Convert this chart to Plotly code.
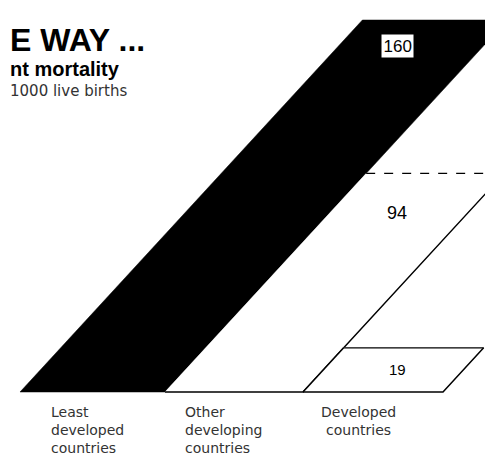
import plotly.graph_objects as go

# ---- data ----
categories = [["Least", "developed", "countries"],
              ["Other", "developing", "countries"],
              ["Developed", "countries"]]
values = [160, 94, 19]
value_labels = ["160", "94", "19"]
title_text = "E WAY ..."
subtitle_text = "nt mortality"
unit_text = "1000 live births"

# ---- style / layout ----
W, H = 493, 459
BASE_PX = 384          # pixel row of the zero line
PX_PER_UNIT = 2.325    # vertical pixels per unit
SLANT = 2.14           # horizontal shift (x units) per value unit
BAR_X0 = [12, 157, 295]
BAR_W = [145, 138, 140]
FILLS = ["black", "white", "white"]
LABEL_X = 389
LABEL_YSHIFT = [-26, -40, -22]
LABEL_SIZE = [17, 18, 15]
CAT_X = [41, 175, 350]
CAT_XANCHOR = ["left", "left", "center"]
CAT_FIRST_GAP = 10     # px below baseline for first label line
CAT_LINE_STEP = 18     # px between label lines
FONT = "Liberation Sans, Arial, sans-serif"
LIGHT_FONT = "DejaVu Sans, sans-serif"

ymax = BASE_PX / PX_PER_UNIT
ymin = -(H - BASE_PX) / PX_PER_UNIT

fig = go.Figure()

for i, v in enumerate(values):
    x0 = BAR_X0[i]
    w = BAR_W[i]
    xs = [x0, x0 + w, x0 + w + v * SLANT, x0 + v * SLANT, x0]
    ys = [0, 0, v, v, 0]
    fig.add_trace(go.Scatter(
        x=xs, y=ys, mode="lines", fill="toself",
        fillcolor=FILLS[i], line=dict(color=FILLS[i], width=0.5),
        hoverinfo="skip", showlegend=False,
    ))
    if i > 0:
        # bottom + right edge solid
        fig.add_trace(go.Scatter(
            x=[x0, x0 + w, x0 + w + v * SLANT], y=[0, 0, v], mode="lines",
            line=dict(color="black", width=1.5), hoverinfo="skip", showlegend=False,
        ))
        # top edge dashed for the middle bar, solid for the last
        fig.add_trace(go.Scatter(
            x=[x0 + v * SLANT, x0 + w + v * SLANT], y=[v, v], mode="lines",
            line=dict(color="black", width=1.3, dash="dash" if i == 1 else "solid"),
            hoverinfo="skip", showlegend=False,
        ))
        if i == 2:
            fig.add_trace(go.Scatter(
                x=[x0, x0 + v * SLANT], y=[0, v], mode="lines",
                line=dict(color="black", width=1.5), hoverinfo="skip", showlegend=False,
            ))

for i, v in enumerate(values):
    fig.add_annotation(
        x=LABEL_X, y=v, xref="x", yref="y", text=value_labels[i],
        showarrow=False, yshift=LABEL_YSHIFT[i],
        font=dict(family=FONT, size=LABEL_SIZE[i], color="black"),
        bgcolor="white" if i == 0 else None,
        bordercolor="black" if i == 0 else None,
        borderwidth=1.5 if i == 0 else 0,
        borderpad=2,
    )

for i, lines in enumerate(categories):
    for j, line in enumerate(lines):
        fig.add_annotation(
            x=CAT_X[i], y=0, xref="x", yref="y", text=line,
            showarrow=False, xanchor=CAT_XANCHOR[i], yanchor="top",
            yshift=-(CAT_FIRST_GAP + j * CAT_LINE_STEP),
            font=dict(family=LIGHT_FONT, size=14, color="#333"),
        )

fig.add_annotation(x=0, y=1 - 12 / H, xref="paper", yref="paper", text="<b>" + title_text + "</b>",
                   showarrow=False, xanchor="left", yanchor="top",
                   font=dict(family=FONT, size=32, color="black"))
fig.add_annotation(x=0, y=1 - 48 / H, xref="paper", yref="paper", text="<b>" + subtitle_text + "</b>",
                   showarrow=False, xanchor="left", yanchor="top",
                   font=dict(family=FONT, size=20, color="black"))
fig.add_annotation(x=0, y=1 - 72 / H, xref="paper", yref="paper", text=unit_text,
                   showarrow=False, xanchor="left", yanchor="top",
                   font=dict(family=LIGHT_FONT, size=15, color="#333"))

fig.update_layout(
    width=W, height=H, autosize=False,
    margin=dict(l=0, r=0, t=0, b=0),
    paper_bgcolor="white", plot_bgcolor="white",
    xaxis=dict(range=[0, W], visible=False, fixedrange=True),
    yaxis=dict(range=[ymin, ymax], visible=False, fixedrange=True),
    showlegend=False,
)

fig.write_html("out.html")
